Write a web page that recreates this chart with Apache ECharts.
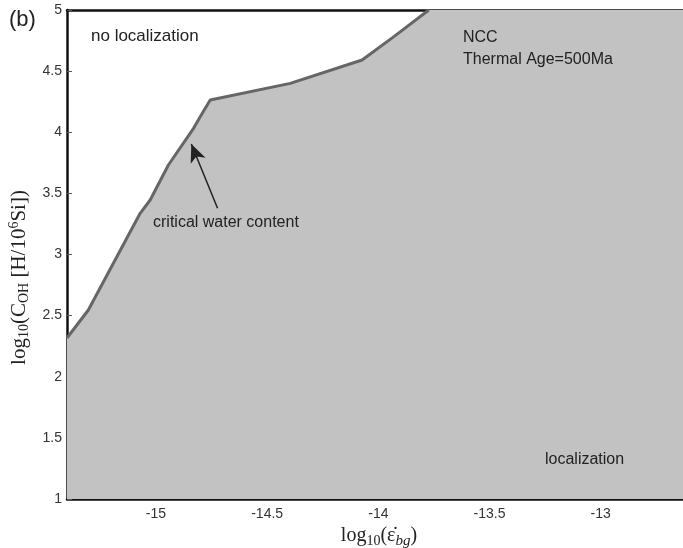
<!DOCTYPE html>
<html>
<head>
<meta charset="utf-8">
<script src="https://cdn.jsdelivr.net/npm/echarts@6/dist/echarts.min.js"></script>
<style>html,body{margin:0;padding:0;background:#fff}#c{width:683px;height:548px}</style>
</head>
<body>
<div id="c"></div>
<script>
// critical water content boundary: [log10(strain rate), log10(C_OH)]
const boundaryX = [-15.4, -15.304, -15.071, -15.026, -14.944, -14.831, -14.801, -14.756, -14.396, -14.073, -13.93, -13.773];
const boundaryY = [2.317, 2.546, 3.337, 3.446, 3.732, 4.032, 4.127, 4.264, 4.40, 4.591, 4.782, 5.0];
const xTicks = [-15, -14.5, -14, -13.5, -13];
const xRange = [-15.4, -12.63];
const yRange = [1, 5];
const arrowTail = [-14.723, 3.378];
const arrowHead = [-14.841, 3.904];

const boundary = boundaryX.map((x, i) => [x, boundaryY[i]]);
const fillData = boundary.concat([[xRange[1], yRange[1]]]);

const chart = echarts.init(document.getElementById('c'), null, {renderer: 'canvas'});
const sans = 'Liberation Sans, Arial, sans-serif';
const serif = 'Liberation Serif, Times New Roman, serif';
chart.setOption({
  animation: false,
  backgroundColor: '#fff',
  grid: {left: 67, top: 10, right: 0, bottom: 49, containLabel: false, outerBoundsMode: 'none'},
  xAxis: [{
    type: 'value', min: xRange[0], max: xRange[1],
    axisLine: {show: true, onZero: false, lineStyle: {color: '#111', width: 2.5}},
    axisTick: {show: true, inside: true, length: 5, customValues: xTicks, lineStyle: {color: '#555'}},
    axisLabel: {customValues: xTicks, color: '#333', fontSize: 14, fontFamily: sans, margin: 8},
    splitLine: {show: false},
    name: '{n|log}{s|10}{n|(ε̇}{i|bg}{n|)}',
    nameLocation: 'middle', nameGap: 21,
    nameTextStyle: {padding: [0, 0, 0, 8], rich: {
      n: {fontFamily: serif, fontSize: 20, color: '#222'},
      s: {fontFamily: serif, fontSize: 14, color: '#222', verticalAlign: 'bottom', padding: [10, 0, 0, 0]},
      i: {fontFamily: serif, fontSize: 15, fontStyle: 'italic', color: '#222', verticalAlign: 'bottom', padding: [10, 0, 0, 0]}
    }}
  }, {
    type: 'value', position: 'top', min: xRange[0], max: xRange[1],
    axisLine: {show: true, onZero: false, lineStyle: {color: '#111', width: 2.5}},
    axisTick: {show: false}, axisLabel: {show: false}, splitLine: {show: false}
  }],
  yAxis: {
    type: 'value', min: yRange[0], max: yRange[1], interval: 0.5,
    axisLine: {show: true, onZero: false, lineStyle: {color: '#111', width: 2.5}},
    axisTick: {show: true, inside: true, length: 5, lineStyle: {color: '#555'}},
    axisLabel: {color: '#333', fontSize: 14, fontFamily: sans, margin: 5},
    splitLine: {show: false},
    name: '{n|log}{s|10}{n|(C}{s|OH}{n| [H/10}{p|6}{n|Si])}',
    nameLocation: 'middle', nameGap: 30, nameRotate: 90,
    nameTextStyle: {padding: [0, 46, 0, 0], rich: {
      n: {fontFamily: serif, fontSize: 21, color: '#222'},
      s: {fontFamily: serif, fontSize: 14, color: '#222', verticalAlign: 'bottom', padding: [10, 0, 0, 0]},
      p: {fontFamily: serif, fontSize: 14, color: '#222', verticalAlign: 'top', padding: [0, 0, 8, 0]}
    }}
  },
  series: [{
    type: 'line', data: fillData, symbol: 'none', silent: true,
    lineStyle: {width: 0}, areaStyle: {color: '#c2c2c2', opacity: 1, origin: 'start'}, z: 1
  }, {
    type: 'line', data: boundary, symbol: 'none', silent: true,
    lineStyle: {color: '#666', width: 3}, z: 3,
    markLine: {
      silent: true, symbol: ['none', 'arrow'], symbolSize: [12, 18],
      lineStyle: {color: '#222', width: 1.5, type: 'solid'}, label: {show: false},
      data: [[{coord: arrowTail}, {coord: arrowHead}]]
    }
  }],
  graphic: [
    {type: 'text', z: 100, left: 9, top: 9, style: {text: '(b)', font: '22px ' + sans, fill: '#222'}},
    {type: 'text', z: 100, left: 91, top: 28, style: {text: 'no localization', font: '17px ' + sans, fill: '#222'}},
    {type: 'text', z: 100, left: 463, top: 30, style: {text: 'NCC', font: '16px ' + sans, fill: '#222'}},
    {type: 'text', z: 100, left: 463, top: 52, style: {text: 'Thermal Age=500Ma', font: '16px ' + sans, fill: '#222'}},
    {type: 'text', z: 100, left: 153, top: 215, style: {text: 'critical water content', font: '16px ' + sans, fill: '#222'}},
    {type: 'text', z: 100, left: 545, top: 452, style: {text: 'localization', font: '16px ' + sans, fill: '#222'}}
  ]
});
</script>
</body>
</html>
